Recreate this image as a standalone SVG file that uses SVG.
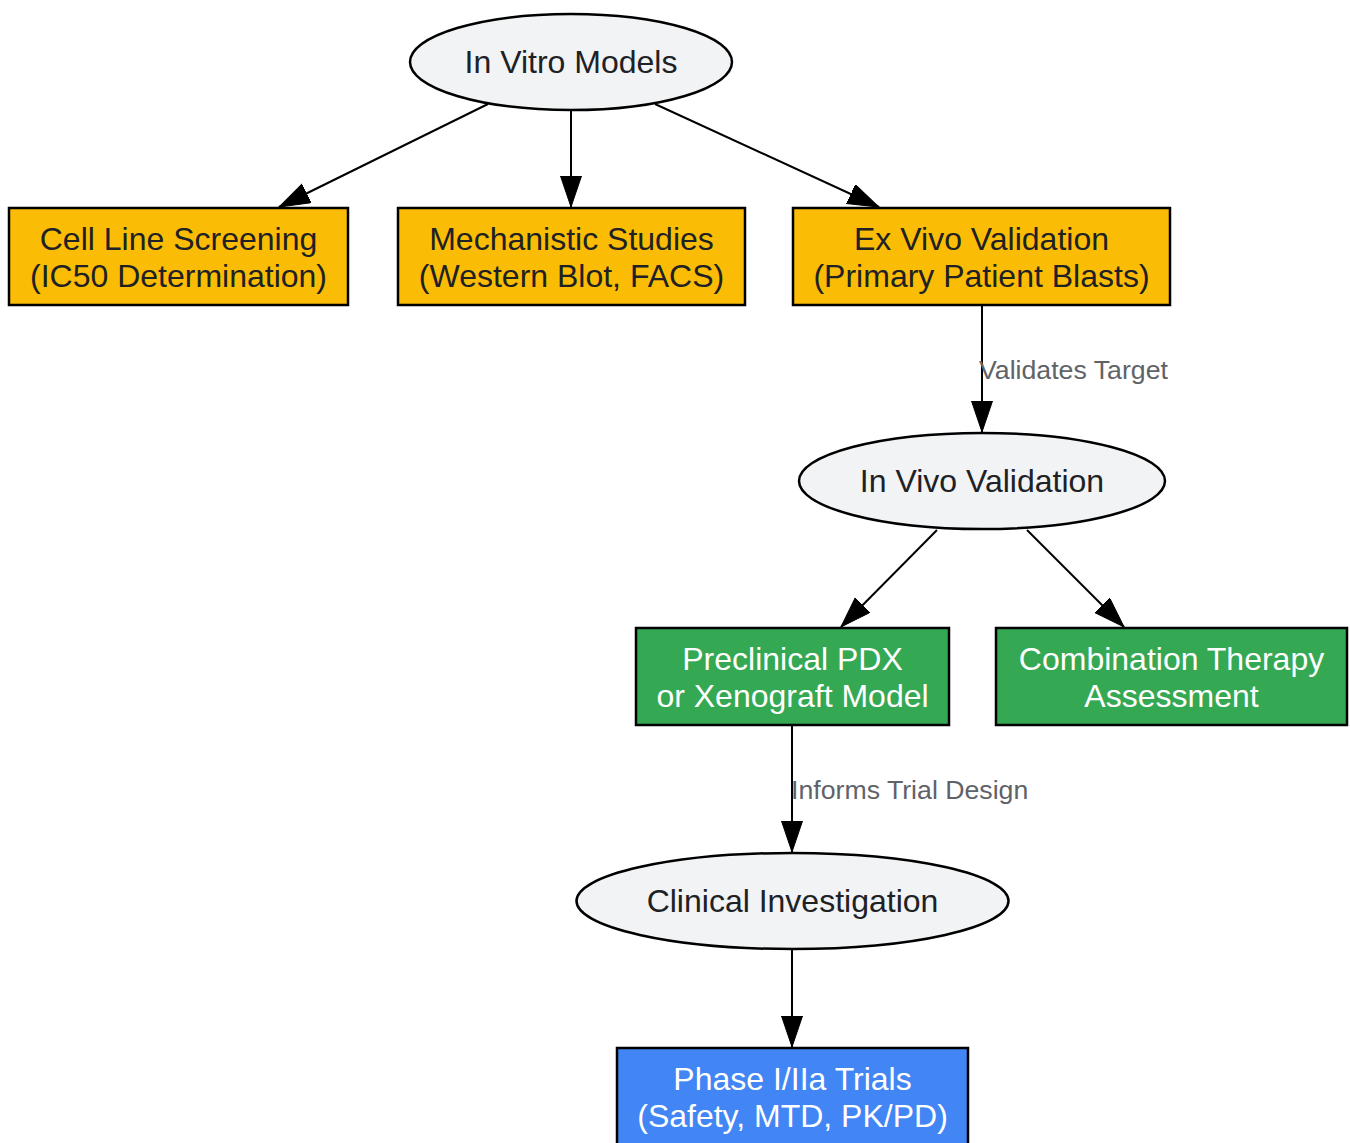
<svg xmlns="http://www.w3.org/2000/svg" width="1350" height="1143" viewBox="0 0 1350 1143">
<style>
.n text{font-family:"Liberation Sans",Arial,sans-serif;font-size:32px;text-anchor:middle;fill:#202124}
.n text.w{fill:#ffffff}
.ell{fill:#f1f3f4;stroke:#000;stroke-width:2.5}
.org{fill:#fbbc05;stroke:#000;stroke-width:2.5}
.grn{fill:#34a853;stroke:#000;stroke-width:2.5}
.blu{fill:#4285f4;stroke:#000;stroke-width:2.5}
.e line{stroke:#000;stroke-width:2;marker-end:url(#ah)}
.lbl{font-family:"Liberation Sans",Arial,sans-serif;font-size:26.7px;fill:#5f6368}
</style>
<defs>
<marker id="ah" markerUnits="userSpaceOnUse" markerWidth="32" markerHeight="22" refX="31" refY="10.5" orient="auto">
<path d="M0,0 L31,10.5 L0,21 z" fill="#000" stroke="#000" stroke-width="1"/>
</marker>
</defs>
<rect width="1350" height="1143" fill="#fff"/>
<g id="connectors" class="e">
<line x1="488" y1="104" x2="279" y2="207"/>
<line x1="571" y1="110" x2="571" y2="207"/>
<line x1="655" y1="104" x2="879" y2="207"/>
<line x1="982" y1="305" x2="982" y2="432"/>
<line x1="937" y1="530" x2="841" y2="627"/>
<line x1="1027" y1="530" x2="1124" y2="627"/>
<line x1="792" y1="725" x2="792" y2="852"/>
<line x1="792" y1="949" x2="792" y2="1047"/>
<text class="lbl" x="979" y="379">Validates Target</text>
<text class="lbl" x="791" y="799">Informs Trial Design</text>
</g>
<g id="invitro" class="n">
<ellipse class="ell" cx="571" cy="62" rx="161" ry="48"/>
<text x="571" y="73">In Vitro Models</text>
</g>
<g id="cellline" class="n">
<rect class="org" x="9" y="208" width="339" height="97"/>
<text x="178.5" y="250">Cell Line Screening</text>
<text x="178.5" y="287">(IC50 Determination)</text>
</g>
<g id="mech" class="n">
<rect class="org" x="398" y="208" width="347" height="97"/>
<text x="571.5" y="250">Mechanistic Studies</text>
<text x="571.5" y="287">(Western Blot, FACS)</text>
</g>
<g id="exvivo" class="n">
<rect class="org" x="793" y="208" width="377" height="97"/>
<text x="981.5" y="250">Ex Vivo Validation</text>
<text x="981.5" y="287">(Primary Patient Blasts)</text>
</g>
<g id="invivo" class="n">
<ellipse class="ell" cx="982" cy="481" rx="183" ry="48"/>
<text x="982" y="492">In Vivo Validation</text>
</g>
<g id="pdx" class="n">
<rect class="grn" x="636" y="628" width="313" height="97"/>
<text class="w" x="792.5" y="670">Preclinical PDX</text>
<text class="w" x="792.5" y="707">or Xenograft Model</text>
</g>
<g id="combo" class="n">
<rect class="grn" x="996" y="628" width="351" height="97"/>
<text class="w" x="1171.5" y="670">Combination Therapy</text>
<text class="w" x="1171.5" y="707">Assessment</text>
</g>
<g id="clinical" class="n">
<ellipse class="ell" cx="792.5" cy="901" rx="216" ry="48"/>
<text x="792.5" y="912">Clinical Investigation</text>
</g>
<g id="phase" class="n">
<rect class="blu" x="617" y="1048" width="351" height="100"/>
<text class="w" x="792.5" y="1090">Phase I/IIa Trials</text>
<text class="w" x="792.5" y="1127">(Safety, MTD, PK/PD)</text>
</g>
</svg>
